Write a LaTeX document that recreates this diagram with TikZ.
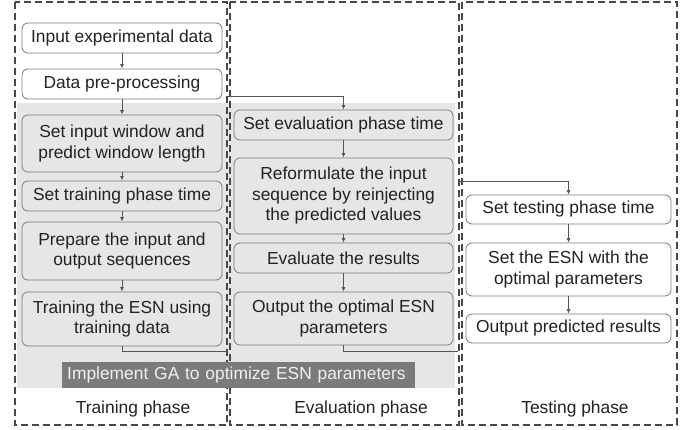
\documentclass[tikz,border=0pt]{standalone}
\usepackage{fontspec}
\setmainfont{Liberation Sans}
\usetikzlibrary{arrows.meta}
\definecolor{bggray}{HTML}{E6E6E6}
\definecolor{boxline}{HTML}{7A7A7A}
\definecolor{conline}{HTML}{555555}
\definecolor{gabox}{HTML}{7B7B7B}
\definecolor{txt}{HTML}{222222}
\begin{document}
\begin{tikzpicture}[x=1pt,y=-1pt,
  stepbox/.style={draw=boxline, line width=0.8pt, rounded corners=6pt, align=center,
    font=\fontsize{17.4}{20.5}\selectfont, text=txt, inner sep=0pt},
  wbox/.style={stepbox, fill=white},
  phasebox/.style={draw=black!72, line width=1.4pt, dash pattern=on 7pt off 4pt},
  conn/.style={draw=conline, line width=0.9pt, -{Latex[length=4.5pt,width=4pt]}},
  plain/.style={draw=conline, line width=0.9pt},
  lbl/.style={font=\fontsize{17.4}{20}\selectfont, text=txt}]
\useasboundingbox (0,0) rectangle (691,430);
% gray background
\fill[bggray] (17,103) rectangle (455,388);
% phase boxes
\draw[phasebox] (15,2) rectangle (227,425);
\draw[phasebox] (230,2) rectangle (459,425);
\draw[phasebox] (462,2) rectangle (677,425);
% GA label
\node[fill=gabox, minimum width=353pt, minimum height=26pt, inner sep=0pt,
  font=\fontsize{17.4}{20}\selectfont, text=white!94!black, anchor=west,
  text width=343pt, align=left] (ga) at (62,375) {Implement GA to optimize ESN parameters};
% training column
\node[wbox, minimum width=200pt, minimum height=30pt] (n1) at (122,38) {Input experimental data};
\node[wbox, minimum width=200pt, minimum height=30pt] (n2) at (122,84) {Data pre-processing};
\node[stepbox, minimum width=200pt, minimum height=57pt] (n3) at (122,143.5) {Set input window and\\predict window length};
\node[stepbox, minimum width=200pt, minimum height=30pt] (n4) at (122,196) {Set training phase time};
\node[stepbox, minimum width=200pt, minimum height=58pt] (n5) at (122,251) {Prepare the input and\\output sequences};
\node[stepbox, minimum width=200pt, minimum height=54pt] (n6) at (122,319) {Training the ESN using\\training data};
% evaluation column
\node[stepbox, minimum width=219pt, minimum height=30pt] (e1) at (343.5,125) {Set evaluation phase time};
\node[stepbox, minimum width=219pt, minimum height=76pt] (e2) at (343.5,196) {Reformulate the input\\sequence by reinjecting\\the predicted values};
\node[stepbox, minimum width=219pt, minimum height=30pt] (e3) at (343.5,258) {Evaluate the results};
\node[stepbox, minimum width=219pt, minimum height=53pt] (e4) at (343.5,318.5) {Output the optimal ESN\\parameters};
% testing column
\node[wbox, minimum width=205pt, minimum height=29pt] (t1) at (568.5,209.5) {Set testing phase time};
\node[wbox, minimum width=205pt, minimum height=53pt] (t2) at (568.5,269.5) {Set the ESN with the\\optimal parameters};
\node[wbox, minimum width=205pt, minimum height=29pt] (t3) at (568.5,328.5) {Output predicted results};
% phase labels
\node[lbl] (lt) at (133,409) {Training phase};
\node[lbl] (le) at (361,409) {Evaluation phase};
\node[lbl] (ls) at (575,409) {Testing phase};
% connector coordinates
\coordinate (c1) at (228,96);
\coordinate (c2) at (227,351);
\coordinate (c3) at (458,351);
\coordinate (c4) at (458,181);
% connectors
\draw[conn] (n1) -- (n2);
\draw[conn] (n2) -- (n3);
\draw[conn] (n3) -- (n4);
\draw[conn] (n4) -- (n5);
\draw[conn] (n5) -- (n6);
\draw[conn] (c1) -| (e1.north);
\draw[conn] (e1) -- (e2);
\draw[conn] (e2) -- (e3);
\draw[conn] (e3) -- (e4);
\draw[plain] (n6.south) |- (c2);
\draw[plain] (e4.south) |- (c3);
\draw[conn] (c4) -| (t1.north);
\draw[conn] (t1) -- (t2);
\draw[conn] (t2) -- (t3);
\end{tikzpicture}
\end{document}
